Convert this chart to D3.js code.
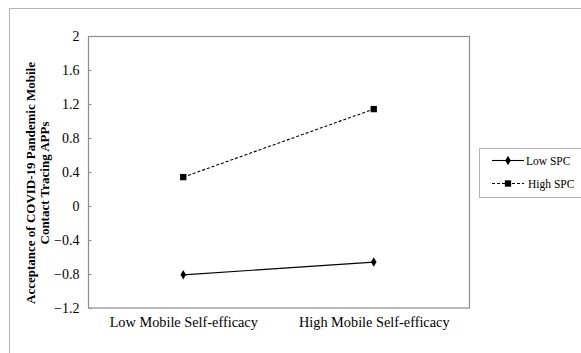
<!DOCTYPE html>
<html>
<head>
<meta charset="utf-8">
<script src="https://cdn.jsdelivr.net/npm/d3@7"></script>
<style>
  body { margin: 0; background: #fff; }
</style>
</head>
<body>
<div id="chart"></div>
<script>
// données
const categories = ["Low Mobile Self-efficacy", "High Mobile Self-efficacy"];
const seriesNames = ["Low SPC", "High SPC"];
const lowSPC = [-0.81, -0.66];
const highSPC = [0.34, 1.14];
const yTicks = [2, 1.6, 1.2, 0.8, 0.4, 0, -0.4, -0.8, -1.2];

const FONT = '"Liberation Serif", "Times New Roman", serif';
const W = 581, H = 353;
const margin = { top: 36, left: 88 };
const width = 381, height = 272;

const svg = d3.select("#chart").append("svg")
    .attr("width", W)
    .attr("height", H);

// cadre extérieur (zone du graphique)
svg.append("rect")
    .attr("x", 9.5).attr("y", 8.5)
    .attr("width", 620).attr("height", 400)
    .attr("fill", "none")
    .attr("stroke", "#b4b4b4")
    .attr("stroke-width", 1);

const chart = svg.append("g")
    .attr("transform", `translate(${margin.left},${margin.top})`);

const x = d3.scalePoint()
    .domain(categories)
    .range([0, width])
    .padding(0.5);

const y = d3.scaleLinear()
    .domain([-1.2, 2])
    .range([height, 0]);

// bordure de la zone de tracé
chart.append("rect")
    .attr("x", 0.5).attr("y", 0.5)
    .attr("width", width).attr("height", height - 0.5)
    .attr("fill", "none")
    .attr("stroke", "#8c8c8c")
    .attr("stroke-width", 1.2);

// axe Y
const yAxis = chart.append("g")
    .attr("transform", "translate(0.5,0)")
    .call(d3.axisLeft(y).tickValues(yTicks).tickSize(-3).tickPadding(9)
        .tickFormat(d => d3.format("")(+d.toFixed(1))));
yAxis.select(".domain").remove();
yAxis.selectAll(".tick line").attr("stroke", "#8c8c8c");
yAxis.selectAll("text")
    .attr("fill", "#000")
    .style("font-size", "14px")
    .style("font-family", FONT);

// axe X
const xAxis = chart.append("g")
    .attr("transform", `translate(0,${height})`)
    .call(d3.axisBottom(x).tickSize(0).tickPadding(9));
xAxis.select(".domain").remove();
xAxis.selectAll("text")
    .attr("fill", "#000")
    .style("font-size", "14.3px")
    .style("font-family", FONT);

// titre de l'axe Y
const yTitle = svg.append("text")
    .attr("transform", "translate(35,183) rotate(-90)")
    .attr("text-anchor", "middle")
    .style("font-family", FONT)
    .style("font-size", "13px")
    .style("font-weight", "bold");
yTitle.append("tspan").attr("x", 0).attr("dy", 0).text("Acceptance of COVID-19 Pandemic Mobile");
yTitle.append("tspan").attr("x", 0).attr("dy", 14).text("Contact Tracing APPs");

const series = [
    { name: seriesNames[0], values: lowSPC, dash: null, symbol: d3.symbolDiamond, size: 26 },
    { name: seriesNames[1], values: highSPC, dash: "3,2", symbol: d3.symbolSquare, size: 40 }
];

const line = d3.line()
    .x((d, i) => x(categories[i]))
    .y(d => y(d));

series.forEach(s => {
    chart.append("path")
        .datum(s.values)
        .attr("d", line)
        .attr("fill", "none")
        .attr("stroke", "#000")
        .attr("stroke-width", 1.1)
        .attr("stroke-dasharray", s.dash);

    chart.selectAll(null)
        .data(s.values)
        .enter()
        .append("path")
        .attr("d", d3.symbol().type(s.symbol).size(s.size))
        .attr("transform", (d, i) => `translate(${x(categories[i])},${y(d)})`)
        .attr("fill", "#000");
});

// légende
const legend = svg.append("g").attr("transform", "translate(479,148)");
legend.append("rect")
    .attr("x", 0.5).attr("y", 0.5)
    .attr("width", 140).attr("height", 49)
    .attr("stroke", "#b4b4b4")
    .attr("fill", "#fff");

series.forEach((s, i) => {
    const g = legend.append("g").attr("transform", `translate(0,${12.5 + i * 23})`);
    g.append("line")
        .attr("x1", 13).attr("x2", 45)
        .attr("stroke", "#000")
        .attr("stroke-width", 1.1)
        .attr("stroke-dasharray", s.dash);
    g.append("path")
        .attr("d", d3.symbol().type(s.symbol).size(s.size))
        .attr("transform", "translate(29,0)")
        .attr("fill", "#000");
    g.append("text")
        .attr("x", i === 0 ? 47 : 49)
        .attr("dy", "0.35em")
        .style("font-family", FONT)
        .style("font-size", "11.5px")
        .text(s.name);
});
</script>
</body>
</html>
